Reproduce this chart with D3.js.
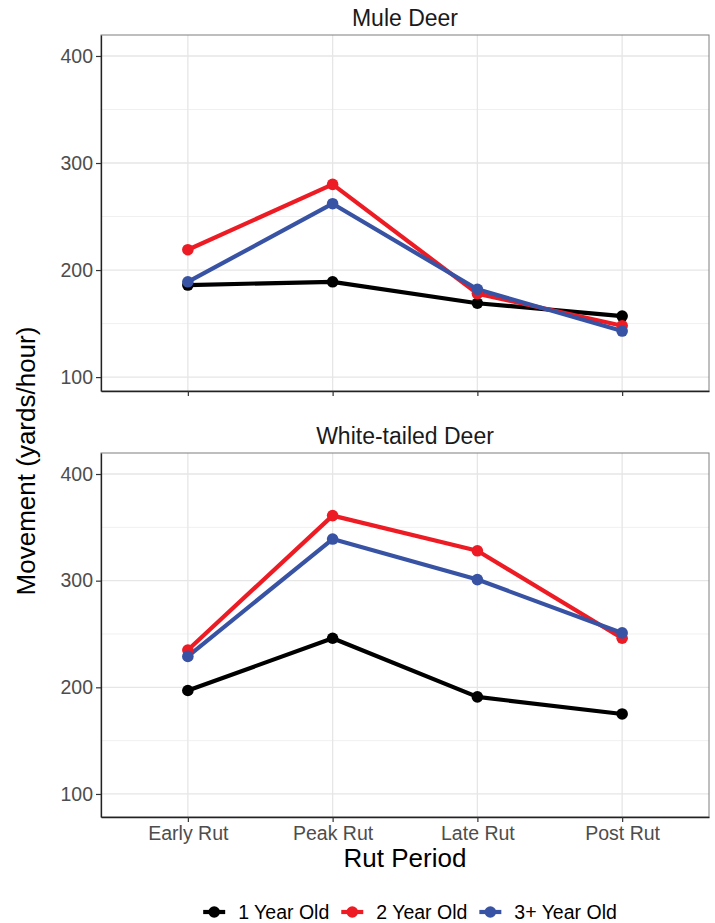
<!DOCTYPE html>
<html lang="en">
<head>
<meta charset="UTF-8">
<title>Deer movement by rut period</title>
<script src="https://d3js.org/d3.v7.min.js"></script>
<style>
    body { margin: 0; background: #fff; }
    text { font-family: "Liberation Sans", Arial, sans-serif; }
</style>
</head>
<body>
<svg id="chart" width="715" height="923"></svg>
<script>
    // data
    const periods = ["Early Rut", "Peak Rut", "Late Rut", "Post Rut"];
    const ageClasses = ["1 Year Old", "2 Year Old", "3+ Year Old"];
    const colors = ["#000000", "#ed1c24", "#3953a4"];
    const yTicks = [100, 200, 300, 400];
    const yMinor = [150, 250, 350];

    const muleOne = [186, 189, 169, 157];
    const muleTwo = [219, 280, 178, 148];
    const muleThree = [189, 262, 182, 143];

    const whiteOne = [197, 246, 191, 175];
    const whiteTwo = [235, 361, 328, 246];
    const whiteThree = [229, 339, 301, 251];

    const panels = [
        { title: "Mule Deer", series: [muleOne, muleTwo, muleThree], top: 35, bottom: 391, yDomain: [87, 419.6] },
        { title: "White-tailed Deer", series: [whiteOne, whiteTwo, whiteThree], top: 453, bottom: 817, yDomain: [78.4, 419.7] }
    ];

    const svg = d3.select("#chart");
    const left = 101, right = 709;

    const x = d3.scalePoint().domain(periods).range([left, right]).padding(0.6);

    panels.forEach((p, pi) => {
        const y = d3.scaleLinear().domain(p.yDomain).range([p.bottom, p.top]);
        const g = svg.append("g");

        // grid
        g.selectAll(".minor").data(yMinor).enter().append("line")
            .attr("x1", left).attr("x2", right)
            .attr("y1", d => y(d)).attr("y2", d => y(d))
            .attr("stroke", "#f0f0f0").attr("stroke-width", 1);
        g.selectAll(".major").data(yTicks).enter().append("line")
            .attr("x1", left).attr("x2", right)
            .attr("y1", d => y(d)).attr("y2", d => y(d))
            .attr("stroke", "#e6e6e6").attr("stroke-width", 1.3);
        g.selectAll(".vgrid").data(periods).enter().append("line")
            .attr("x1", d => x(d)).attr("x2", d => x(d))
            .attr("y1", p.top).attr("y2", p.bottom)
            .attr("stroke", "#e6e6e6").attr("stroke-width", 1.3);

        // panel border (top/right grey)
        g.append("rect")
            .attr("x", left).attr("y", p.top)
            .attr("width", right - left).attr("height", p.bottom - p.top)
            .attr("fill", "none").attr("stroke", "#7f7f7f").attr("stroke-width", 1);

        // y axis
        const yAxis = g.append("g")
            .attr("transform", `translate(${left},0)`)
            .call(d3.axisLeft(y).tickValues(yTicks).tickSize(5).tickSizeOuter(0).tickPadding(3));
        yAxis.select(".domain").attr("stroke", "#222").attr("stroke-width", 1.3);
        yAxis.selectAll(".tick line").attr("stroke", "#333").attr("stroke-width", 1.2);
        yAxis.selectAll(".tick text")
            .attr("fill", "#4d4d4d").style("font-size", "19.5px")
            .attr("font-family", "Liberation Sans, Arial, sans-serif");

        // x axis
        const xAxis = g.append("g")
            .attr("transform", `translate(0,${p.bottom})`)
            .call(d3.axisBottom(x).tickSize(5).tickSizeOuter(0).tickPadding(4));
        xAxis.select(".domain").attr("stroke", "#222").attr("stroke-width", 1.3);
        xAxis.selectAll(".tick line").attr("stroke", "#333").attr("stroke-width", 1.2);
        xAxis.selectAll(".tick text")
            .attr("fill", "#4d4d4d").style("font-size", "19.5px")
            .attr("font-family", "Liberation Sans, Arial, sans-serif");
        if (pi === 0) xAxis.selectAll(".tick text").remove();

        // panel title
        svg.append("text")
            .attr("x", (left + right) / 2).attr("y", p.top - 9)
            .attr("text-anchor", "middle")
            .attr("fill", "#1a1a1a")
            .style("font-size", "23px")
            .text(p.title);

        // lines then points
        const line = d3.line().x((d, i) => x(periods[i])).y(d => y(d));
        p.series.forEach((s, si) => {
            g.append("path").datum(s)
                .attr("d", line)
                .attr("fill", "none")
                .attr("stroke", colors[si])
                .attr("stroke-width", 4.2)
                .attr("stroke-linejoin", "round");
        });
        p.series.forEach((s, si) => {
            g.selectAll(null).data(s).enter().append("circle")
                .attr("cx", (d, i) => x(periods[i]))
                .attr("cy", d => y(d))
                .attr("r", 5.8)
                .attr("fill", colors[si]);
        });
    });

    // axis titles
    svg.append("text")
        .attr("transform", "translate(35,461) rotate(-90)")
        .attr("text-anchor", "middle")
        .style("font-size", "26px")
        .text("Movement (yards/hour)");

    svg.append("text")
        .attr("x", (left + right) / 2).attr("y", 867)
        .attr("text-anchor", "middle")
        .style("font-size", "26px")
        .text("Rut Period");

    // legend
    const legend = svg.append("g");
    let lx = 0;
    ageClasses.forEach((a, i) => {
        const item = legend.append("g").attr("transform", `translate(${lx},0)`);
        item.append("line")
            .attr("x1", 0).attr("x2", 22).attr("y1", 0).attr("y2", 0)
            .attr("stroke", colors[i]).attr("stroke-width", 4.2);
        item.append("circle").attr("cx", 11).attr("cy", 0).attr("r", 5.8).attr("fill", colors[i]);
        const t = item.append("text")
            .attr("x", 35).attr("y", 7)
            .style("font-size", "19.5px")
            .text(a);
        lx += 35 + t.node().getComputedTextLength() + 12;
    });
    const legendWidth = lx - 12;
    legend.attr("transform", `translate(${410 - legendWidth / 2},912)`);
</script>
</body>
</html>
